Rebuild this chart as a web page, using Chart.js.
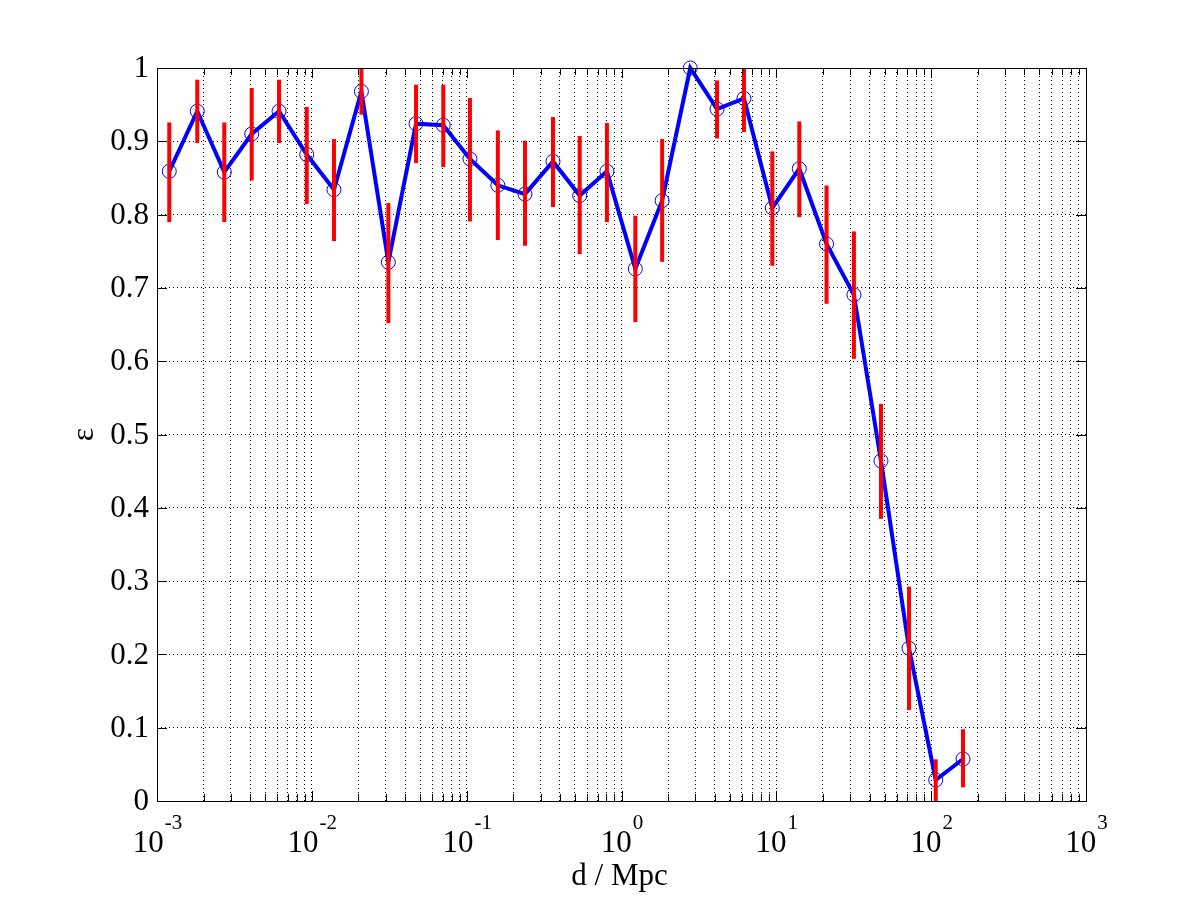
<!DOCTYPE html>
<html>
<head>
<meta charset="utf-8">
<script src="https://cdn.jsdelivr.net/npm/chart.js@4/dist/chart.umd.min.js"></script>
<style>
html,body{margin:0;padding:0;background:#ffffff;}
canvas{display:block;}
</style>
</head>
<body>
<canvas id="c" width="1200" height="900"></canvas>
<script>
// ---- data ----
const distances = [0.0012, 0.00182, 0.00272, 0.00409, 0.00614, 0.00927, 0.0139, 0.0209, 0.0312, 0.0471,
                   0.0706, 0.105, 0.159, 0.238, 0.361, 0.537, 0.805, 1.228, 1.83, 2.78,
                   4.14, 6.18, 9.42, 14.07, 21.1, 31.7, 47.4, 71.9, 107, 160.6];
const efficiency = [0.859, 0.941, 0.858, 0.910, 0.941, 0.882, 0.834, 0.968, 0.735, 0.924,
                    0.922, 0.876, 0.840, 0.828, 0.8725, 0.826, 0.859, 0.726, 0.819, 1.0,
                    0.944, 0.9585, 0.809, 0.8626, 0.760, 0.6906, 0.464, 0.2084, 0.0287, 0.0573];
const errUpper = [0.9257, 0.984, 0.9257, 0.9727, 0.984, 0.9468, 0.9031, 1.0, 0.8158, 0.9772,
                  0.9772, 0.9591, 0.9148, 0.9008, 0.9331, 0.9072, 0.925, 0.7984, 0.9031, 1.0,
                  0.9831, 1.0, 0.8862, 0.9271, 0.8398, 0.777, 0.5418, 0.2925, 0.0569, 0.0979];
const errLower = [0.7898, 0.8976, 0.7898, 0.8466, 0.8976, 0.8144, 0.7639, 0.9363, 0.652, 0.8703,
                  0.8649, 0.7906, 0.7653, 0.7575, 0.8103, 0.7461, 0.7898, 0.6533, 0.7356, 1.0,
                  0.9039, 0.9127, 0.7302, 0.7966, 0.6783, 0.6032, 0.3849, 0.1242, 0.0, 0.0187];
const yTickValues = [0, 0.1, 0.2, 0.3, 0.4, 0.5, 0.6, 0.7, 0.8, 0.9, 1];
const yTickLabels = ['0', '0.1', '0.2', '0.3', '0.4', '0.5', '0.6', '0.7', '0.8', '0.9', '1'];
const xTickExponents = [-3, -2, -1, 0, 1, 2, 3];
const xTickBase = '10';
const xTitle = 'd / Mpc';
const yTitle = 'ε';

const SERIF = '"Liberation Serif", "DejaVu Serif", serif';

// grid positions for the log axis (decade + minor ticks)
function logGridValues() {
  const v = [];
  for (let k = 0; k < xTickExponents.length; k++) {
    const e = xTickExponents[k];
    const p = Math.pow(10, e);
    if (k === xTickExponents.length - 1) { v.push({value: p, major: true}); break; }
    for (let m = 1; m <= 9; m++) v.push({value: +(m * p).toPrecision(6), major: m === 1});
  }
  return v;
}

const matlabAxes = {
  id: 'matlabAxes',
  afterDatasetsDraw(chart) {
    const {ctx, scales: {x, y}} = chart;
    ctx.save();
    ctx.strokeStyle = '#ff0000';
    ctx.lineWidth = 4;
    ctx.lineCap = 'butt';
    for (let i = 0; i < distances.length; i++) {
      const px = x.getPixelForValue(distances[i]);
      const y1 = y.getPixelForValue(errLower[i]);
      const y2 = y.getPixelForValue(errUpper[i]);
      if (Math.abs(y1 - y2) < 0.5) continue;
      ctx.beginPath();
      ctx.moveTo(px, y1);
      ctx.lineTo(px, y2);
      ctx.stroke();
    }
    ctx.restore();
  },
  afterDraw(chart) {
    const {ctx, chartArea: a, scales: {x, y}} = chart;
    ctx.save();
    // box
    ctx.strokeStyle = '#000';
    ctx.lineWidth = 1;
    ctx.strokeRect(Math.round(a.left) + 0.5, Math.round(a.top) + 0.5,
                   Math.round(a.right - a.left), Math.round(a.bottom - a.top));
    // inward tick marks
    ctx.beginPath();
    logGridValues().forEach(t => {
      const px = Math.round(x.getPixelForValue(t.value)) + 0.5;
      const len = t.major ? 10 : 7;
      ctx.moveTo(px, a.bottom); ctx.lineTo(px, a.bottom - len);
      ctx.moveTo(px, a.top); ctx.lineTo(px, a.top + len);
    });
    yTickValues.forEach(v => {
      const py = Math.round(y.getPixelForValue(v)) + 0.5;
      ctx.moveTo(a.left, py); ctx.lineTo(a.left + 10, py);
      ctx.moveTo(a.right, py); ctx.lineTo(a.right - 10, py);
    });
    ctx.stroke();

    ctx.fillStyle = '#000';
    // y tick labels
    ctx.font = '31px ' + SERIF;
    ctx.textAlign = 'right';
    ctx.textBaseline = 'middle';
    yTickValues.forEach((v, i) => {
      ctx.fillText(yTickLabels[i], a.left - 8, y.getPixelForValue(v) + 1);
    });
    // x tick labels 10^e
    ctx.textBaseline = 'alphabetic';
    ctx.textAlign = 'left';
    xTickExponents.forEach(e => {
      const px = x.getPixelForValue(Math.pow(10, e));
      ctx.font = '31px ' + SERIF;
      const wb = ctx.measureText(xTickBase).width;
      const expText = String(e).replace('−', '-');
      ctx.font = '21px ' + SERIF;
      const we = ctx.measureText(expText).width;
      const x0 = px - (wb + we) / 2;
      ctx.font = '31px ' + SERIF;
      ctx.fillText(xTickBase, x0, a.bottom + 51);
      ctx.font = '21px ' + SERIF;
      ctx.fillText(expText, x0 + wb + 1, a.bottom + 28);
    });
    // x title
    ctx.font = '31px ' + SERIF;
    ctx.textAlign = 'center';
    ctx.fillText(xTitle, (a.left + a.right) / 2 - 2, 885);
    // y title (rotated)
    ctx.save();
    ctx.translate(93, (a.top + a.bottom) / 2);
    ctx.rotate(-Math.PI / 2);
    ctx.font = '32px ' + SERIF;
    ctx.textAlign = 'center';
    ctx.textBaseline = 'alphabetic';
    ctx.fillText(yTitle, 0, 0);
    ctx.restore();
    ctx.restore();
  }
};

new Chart(document.getElementById('c'), {
  type: 'scatter',
  data: {
    datasets: [{
      data: distances.map((d, i) => ({x: d, y: efficiency[i]})),
      showLine: true,
      borderColor: '#0000ff',
      borderWidth: 4,
      pointStyle: 'circle',
      pointRadius: 7,
      pointHoverRadius: 7,
      pointBorderWidth: 1,
      pointBorderColor: '#0000ff',
      pointBackgroundColor: 'rgba(0,0,0,0)',
      tension: 0,
      clip: false
    }]
  },
  options: {
    responsive: false,
    animation: false,
    events: [],
    layout: {padding: {left: 157, top: 68, right: 114, bottom: 99}},
    plugins: {legend: {display: false}, tooltip: {enabled: false}},
    scales: {
      x: {
        type: 'logarithmic',
        min: 0.001, max: 1000,
        afterBuildTicks: (axis) => { axis.ticks = logGridValues(); },
        ticks: {display: false},
        grid: {color: '#000', lineWidth: 1, drawTicks: false},
        border: {display: false, dash: [1, 3]}
      },
      y: {
        type: 'linear',
        min: 0, max: 1,
        afterBuildTicks: (axis) => { axis.ticks = yTickValues.map(v => ({value: v})); },
        ticks: {display: false},
        grid: {color: '#000', lineWidth: 1, drawTicks: false},
        border: {display: false, dash: [1, 3]}
      }
    }
  },
  plugins: [matlabAxes]
});
</script>
</body>
</html>
